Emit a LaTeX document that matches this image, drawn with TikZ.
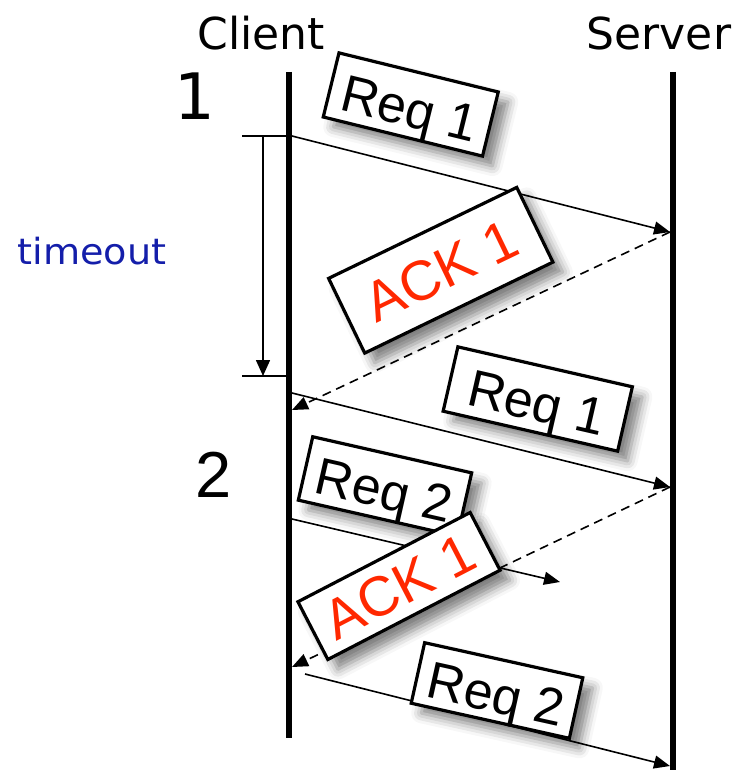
\documentclass[tikz,border=0pt]{standalone}
\usepackage{fontspec}
\setmainfont{Liberation Sans}
\newfontfamily\handfont{DejaVu Sans}
\usetikzlibrary{arrows.meta,shadows.blur}
\definecolor{ackred}{RGB}{255,40,0}
\definecolor{toblue}{RGB}{20,30,170}

\begin{document}
\begin{tikzpicture}[x=1pt,y=-1pt,
  lifeline/.style={line width=6pt},
  msg/.style={line width=1.6pt,-{Triangle[length=16pt,width=13pt]}},
  ackmsg/.style={msg,dash pattern=on 9pt off 6pt},
  bracket/.style={line width=1.6pt},
  pktbox/.style={draw,line width=3.2pt,fill=white,inner sep=0pt,
    blur shadow={shadow xshift=10pt,shadow yshift=-10pt,
      shadow blur radius=10pt,shadow opacity=50}},
  reqbox/.style={pktbox,font=\fontsize{52}{52}\selectfont,
    text height=44pt,text depth=0pt},
  ackbox/.style={pktbox,font=\fontsize{56}{56}\selectfont,text=ackred,
    text height=40pt,text depth=0pt},
  hand/.style={font=\handfont\fontsize{#1}{#1}\selectfont,anchor=base,inner sep=0pt},
]
\useasboundingbox (0,0) rectangle (748,770);

% headings and step numbers
\node[hand=44] (client) at (261,50) {Client};
\node[hand=44] (server) at (659,50) {Server};
\node[hand=64] (stepone) at (195,120) {1};
\node[font=\fontsize{65}{65}\selectfont,anchor=base,inner sep=0pt] (steptwo) at (214,497) {2};
\node[hand=36,text=toblue,xscale=1.06] (tmo) at (92,264) {timeout};

% lifelines
\coordinate (cltop) at (289,72);
\coordinate (clbot) at (289,738);
\coordinate (svtop) at (673,72);
\coordinate (svbot) at (673,770);
\draw[lifeline] (cltop) -- (clbot);
\draw[lifeline] (svtop) -- (svbot);

% timeout bracket
\coordinate (tstartl) at (242,136);
\coordinate (tstartr) at (289,136);
\coordinate (tendl) at (242,376);
\coordinate (tendr) at (289,376);
\coordinate (tarrtop) at (263,136);
\coordinate (tarrbot) at (263,376);
\draw[bracket] (tstartl) -- (tstartr);
\draw[bracket] (tendl) -- (tendr);
\draw[bracket,-{Triangle[length=16pt,width=14pt]}] (tarrtop) -- (tarrbot);

% message end points
\coordinate (s1) at (292,136);
\coordinate (r1) at (670,232);
\coordinate (a1) at (292,410);
\coordinate (s2) at (292,393);
\coordinate (r2) at (670,487);
\coordinate (a2) at (292,667);
\coordinate (s3) at (292,519);
\coordinate (lost) at (560,582);
\coordinate (s4) at (305,674);
\coordinate (r4) at (670,766);

\draw[msg] (s1) -- (r1);
\draw[ackmsg] (r1) -- (a1);
\draw[msg] (s2) -- (r2);
\draw[ackmsg] (r2) -- (a2);
\draw[msg] (s3) -- (lost);
\draw[msg] (s4) -- (r4);

% packet labels
\node[reqbox,rotate=-13.8,minimum width=164pt,minimum height=66pt] (req1a) at (410.75,104.5) {Req 1};
\node[ackbox,rotate=25.8,minimum width=209pt,minimum height=83pt] (ack1a) at (440.75,270.25) {ACK 1};
\node[reqbox,rotate=-12.9,minimum width=179pt,minimum height=66pt] (req1b) at (537.75,399) {Req 1};
\node[reqbox,rotate=-12.8,minimum width=163pt,minimum height=65pt] (req2a) at (385,486.5) {Req 2};
\node[ackbox,rotate=27.4,minimum width=194pt,minimum height=65pt] (ack1b) at (399,586) {ACK 1};
\node[reqbox,rotate=-12.5,minimum width=162pt,minimum height=62pt] (req2b) at (497,690.5) {Req 2};
\end{tikzpicture}
\end{document}
